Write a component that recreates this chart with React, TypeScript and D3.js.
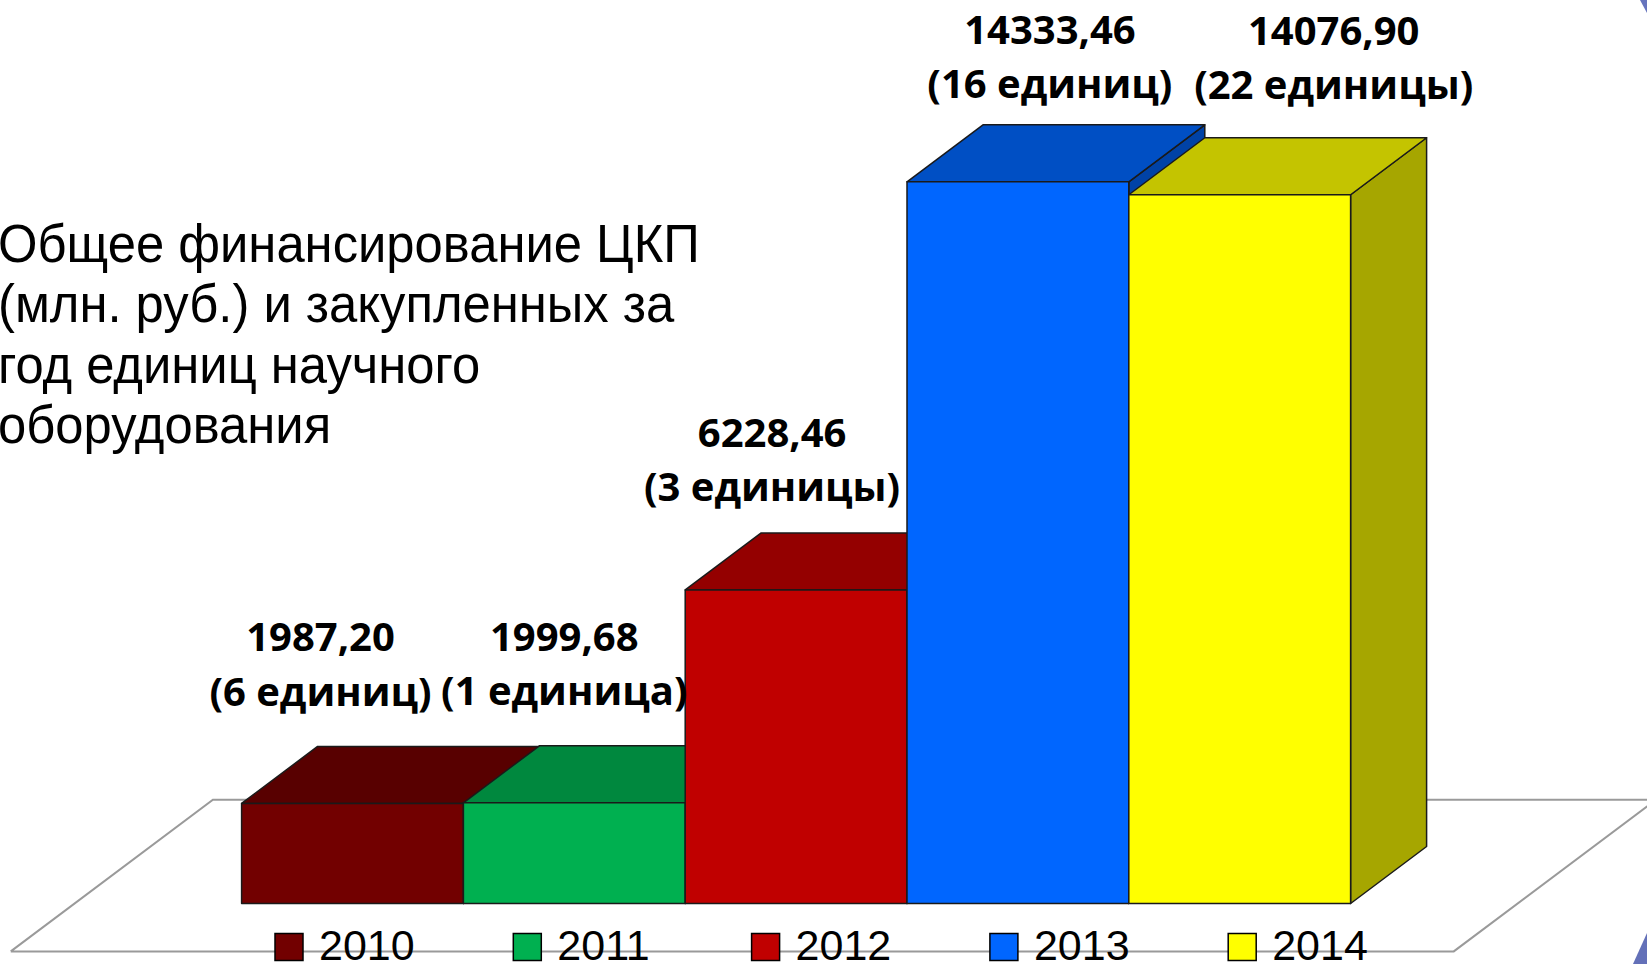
import React from "react";
import * as d3 from "d3";

// ---- data ----
const years = ["2010", "2011", "2012", "2013", "2014"];
const funding = [1987.2, 1999.68, 6228.46, 14333.46, 14076.9];
const unitsBought = [6, 1, 3, 16, 22];
const barColors = ["#720000", "#00B050", "#C00000", "#0066FF", "#FFFF00"];
const titleLines = [
  "Общее финансирование ЦКП",
  "(млн. руб.) и закупленных за",
  "год единиц научного",
  "оборудования",
];

// ---- layout (not data) ----
const W = 1647;
const H = 964;
const DEPTH_X = 76;
const DEPTH_Y = -57;
const LABEL_DX = [-32, -10, -24, 32, 94];
const LABEL_DY = [-152, -152, -143, -138, -150];

const ruFmt = d3.formatLocale({
  decimal: ",",
  thousands: "",
  grouping: [3],
  currency: ["", ""],
}).format(".2f");

function unitWord(n: number): string {
  const m10 = n % 10;
  const m100 = n % 100;
  if (m10 === 1 && m100 !== 11) return "единица";
  if (m10 >= 2 && m10 <= 4 && (m100 < 12 || m100 > 14)) return "единицы";
  return "единиц";
}

function shade(c: string, k: number): string {
  const rgb = d3.rgb(c);
  return d3.rgb(rgb.r * k, rgb.g * k, rgb.b * k).formatHex();
}

export default function App() {
  const x = d3.scaleBand<string>().domain(years).range([241.6, 1350.6]).padding(0);
  const y = d3.scaleLinear().domain([0, 16000]).range([903.5, 903.5 - 16000 * 0.05035]);
  const bw = x.bandwidth();
  const y0 = y(0);

  // floor in bar-space
  const floorLeft = (x(years[0]) as number) - 167;
  const floorRight = (x(years[years.length - 1]) as number) + bw + 167;
  const dFront = -0.84;
  const dBack = 1.82;
  const pt = (px: number, d: number): [number, number] => [px + d * DEPTH_X, y0 + d * DEPTH_Y];
  const floorPts = [pt(floorLeft, dFront), pt(floorLeft, dBack), pt(floorRight, dBack), pt(floorRight, dFront)];
  const line = d3.line();

  const stroke = "#1a1a1a";

  return (
    <div style={{ position: "absolute", left: 0, top: 0, width: W, height: H, overflow: "hidden" }}>
      <svg width={W} height={H} style={{ display: "block", background: "#fff" }}>
        {/* floor */}
        <path d={line([...floorPts, floorPts[0]]) as string} fill="none" stroke="#9a9a9a" strokeWidth={2} />

        {/* bars */}
        {years.map((yr, i) => {
          const x0 = x(yr) as number;
          const x1 = x0 + bw;
          const yt = y(funding[i]);
          const c = barColors[i];
          const front = [[x0, yt], [x1, yt], [x1, y0], [x0, y0]] as [number, number][];
          const top = [[x0, yt], [x0 + DEPTH_X, yt + DEPTH_Y], [x1 + DEPTH_X, yt + DEPTH_Y], [x1, yt]] as [number, number][];
          const side = [[x1, yt], [x1 + DEPTH_X, yt + DEPTH_Y], [x1 + DEPTH_X, y0 + DEPTH_Y], [x1, y0]] as [number, number][];
          return (
            <g key={yr}>
              <path d={(line(side) as string) + "Z"} fill={shade(c, 0.65)} stroke={stroke} strokeWidth={1.5} strokeLinejoin="round" />
              <path d={(line(top) as string) + "Z"} fill={shade(c, 0.77)} stroke={stroke} strokeWidth={1.5} strokeLinejoin="round" />
              <path d={(line(front) as string) + "Z"} fill={c} stroke={stroke} strokeWidth={1.5} strokeLinejoin="round" />
            </g>
          );
        })}

        {/* data labels */}
        {years.map((yr, i) => {
          const cx = (x(yr) as number) + bw / 2 + LABEL_DX[i];
          const by = y(funding[i]) + LABEL_DY[i];
          return (
            <text key={"l" + yr} x={cx} y={by} textAnchor="middle" fontFamily="'Open Sans', sans-serif" fontWeight={700} fontSize={40} fill="#000">
              <tspan x={cx} y={by}>{ruFmt(funding[i])}</tspan>
              <tspan x={cx} y={by + 54.5}>{`(${unitsBought[i]} ${unitWord(unitsBought[i])})`}</tspan>
            </text>
          );
        })}

        {/* title */}
        <g transform="translate(-2,0) scale(0.94,1)">
          {titleLines.map((t, i) => (
            <text key={t} x={0} y={262 + i * 60.5} fontFamily="'Liberation Sans', Arial, sans-serif" fontSize={54} fill="#000">
              {t}
            </text>
          ))}
        </g>

        {/* legend */}
        {years.map((yr, i) => {
          const lx = 275 + i * 238.3;
          return (
            <g key={"lg" + yr}>
              <rect x={lx} y={933.5} width={28} height={27} fill={barColors[i]} stroke="#000" strokeWidth={1.5} />
              <text x={lx + 44} y={960} fontFamily="'Liberation Sans', Arial, sans-serif" fontSize={43} fill="#000">
                {yr}
              </text>
            </g>
          );
        })}

        {/* slide decoration corners */}
        <path d={`M1640,0 L${W},0 L${W},13 Z`} fill="#6674BD" />
        <path d={`M1633,${H} L${W},933 L${W},${H} Z`} fill="#6370B8" />
      </svg>
    </div>
  );
}
